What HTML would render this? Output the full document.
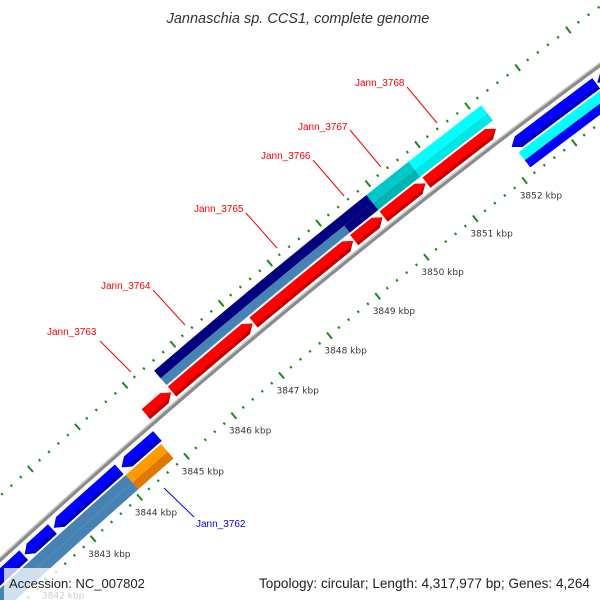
<!DOCTYPE html>
<html><head><meta charset="utf-8">
<style>
html,body{margin:0;padding:0;background:#fff;width:600px;height:600px;overflow:hidden;}
svg{display:block;font-family:"Liberation Sans",sans-serif;}
</style></head>
<body>
<svg id="map" width="600" height="600" viewBox="0 0 600 600" xmlns="http://www.w3.org/2000/svg">
<rect width="600" height="600" fill="#fff"/>
<g id="layer"></g>
<text x="298" y="23" text-anchor="middle" font-size="14.5" font-style="italic" fill="#333">Jannaschia sp. CCS1, complete genome</text>
<rect x="4" y="568" width="142" height="32" fill="rgba(255,255,255,0.75)"/>
<text x="9" y="588" font-size="13" fill="#222">Accession: NC_007802</text>
<text x="590" y="588" text-anchor="end" font-size="13.6" fill="#222">Topology: circular; Length: 4,317,977 bp; Genes: 4,264</text>
</svg>
<script>
// ---- data ----
const fwdStarts = [3844.95, 3845.50, 3847.20, 3849.27, 3849.87, 3850.74];
const fwdEnds   = [3845.48, 3847.18, 3849.25, 3849.85, 3850.72, 3852.14];
const revStarts = [3841.20, 3842.02, 3842.65, 3844.10, 3852.16, 3853.87];
const revEnds   = [3842.00, 3842.62, 3844.05, 3844.86, 3853.85, 3855.50];
const outerUpStarts = [3845.50, 3849.87, 3850.72];
const outerUpEnds   = [3849.87, 3850.72, 3852.18];
const outerUpColors = ["#000080", "#00c8c8", "#00ffff"];
const outerLoStarts = [3845.50, 3849.29, 3849.87, 3850.72];
const outerLoEnds   = [3849.29, 3849.87, 3850.72, 3852.18];
const outerLoColors = ["#4682b4", "#000080", "#00b4b4", "#00e6e6"];
const innerUpStarts = [3841.20, 3844.07, 3852.20];
const innerUpEnds   = [3844.07, 3844.82, 3855.50];
const innerUpColors = ["#4682b4", "#ff9900", "#00ffff"];
const innerLoStarts = [3841.20, 3844.07, 3852.20];
const innerLoEnds   = [3844.07, 3844.82, 3855.50];
const innerLoColors = ["#4682b4", "#e07800", "#0000ff"];
const tickMajors = [3840,3841,3842,3843,3844,3845,3846,3847,3848,3849,3850,3851,3852,3853,3854,3855,3856];
const tickLabels = ["3840 kbp","3841 kbp","3842 kbp","3843 kbp","3844 kbp","3845 kbp","3846 kbp","3847 kbp","3848 kbp","3849 kbp","3850 kbp","3851 kbp","3852 kbp","","","",""];

// ---- axis functions ----
const CX = 4924, CY = 5918;
function ang(k){ return (-129.95 + (k - 3847) * 0.494) * Math.PI / 180; }
function pt(k, r){ const a = ang(k); return [CX + r*Math.cos(a), CY + r*Math.sin(a)]; }
const NS = "http://www.w3.org/2000/svg";
const layer = document.getElementById('layer');
function fmt(p){ return p[0].toFixed(2)+","+p[1].toFixed(2); }
function arcPts(k1,k2,r){ const out=[]; const n=Math.max(2,Math.ceil(Math.abs(k2-k1)*4)); for(let i=0;i<=n;i++){ out.push(pt(k1+(k2-k1)*i/n,r)); } return out; }
function poly(points, fill){
  const p = document.createElementNS(NS,'polygon');
  p.setAttribute('points', points.map(fmt).join(' '));
  p.setAttribute('fill', fill);
  layer.appendChild(p);
  return p;
}
function band(k1,k2,r1,r2,fill){
  const pts = arcPts(k1,k2,r2).concat(arcPts(k2,k1,r1));
  return poly(pts, fill);
}
const H = 0.14;
function fwdArrow(s,e,r1,r2,fill,shade){
  const rm=(r1+r2)/2;
  const pts = arcPts(s,e-H,r2).concat([pt(e,rm)]).concat(arcPts(e-H,s,r1));
  const el = poly(pts, fill);
  const sh = poly(arcPts(s,e-H,r1+3.5).concat([pt(e-0.02,rm-0.5)]).concat(arcPts(e-H,s,r1)), shade);
  return [el, sh];
}
function revArrow(s,e,r1,r2,fill,shade){
  const rm=(r1+r2)/2;
  const pts = [pt(s,rm)].concat(arcPts(s+H,e,r2)).concat(arcPts(e,s+H,r1));
  const el = poly(pts, fill);
  const sh = poly([pt(s+0.02,rm-0.5)].concat(arcPts(s+H,e,r1+3.5)).concat(arcPts(e,s+H,r1)), shade);
  return [el, sh];
}

// backbone
const bb = band(3839.5,3857,7275,7279,"#8a8a8a");


const bbl = band(3839.5,3857,7278,7279.5,"#c8c8c8");



// forward genes
for(let i=0;i<fwdStarts.length;i++){
  const [el,sh] = fwdArrow(fwdStarts[i],fwdEnds[i],7282,7295,"#ff0000","#c80000");
  
  
  
  
}
// reverse genes
for(let i=0;i<revStarts.length;i++){
  const [el,sh] = revArrow(revStarts[i],revEnds[i],7258,7271,"#0000ff","#0000b4");
  
  
  
  
}
// feature rings
for(let i=0;i<outerLoStarts.length;i++){
  const el = band(outerLoStarts[i],outerLoEnds[i],7297,7306,outerLoColors[i]);
  
  
}
for(let i=0;i<outerUpStarts.length;i++){
  const el = band(outerUpStarts[i],outerUpEnds[i],7306,7316,outerUpColors[i]);
  
  
}
for(let i=0;i<innerUpStarts.length;i++){
  const el = band(innerUpStarts[i],innerUpEnds[i],7246,7256,innerUpColors[i]);
  
  
}
for(let i=0;i<innerLoStarts.length;i++){
  const el = band(innerLoStarts[i],innerLoEnds[i],7237,7246,innerLoColors[i]);
  
  
}

// ticks
function tickLine(k,r1,r2,w){
  const a=pt(k,r1), b=pt(k,r2);
  const l=document.createElementNS(NS,'line');
  l.setAttribute('x1',a[0]); l.setAttribute('y1',a[1]);
  l.setAttribute('x2',b[0]); l.setAttribute('y2',b[1]);
  l.setAttribute('stroke','#1a8a1a'); l.setAttribute('stroke-width',w);
  layer.appendChild(l);
  return l;
}
for(let i=0;i<tickMajors.length;i++){
  const k=tickMajors[i];
  const t1=tickLine(k,7226,7234,2);
  
  
  const t2=tickLine(k,7320,7328,2);
  
  
  for(let j=1;j<5;j++){
    const m1=tickLine(k+j*0.2,7229,7231.5,2);
    
    
    const m2=tickLine(k+j*0.2,7323,7325.5,2);
    
    
  }
  if(tickLabels[i]){
    const p=pt(k,7230);
    const tx=document.createElementNS(NS,'text');
    tx.setAttribute('x',(p[0]-5).toFixed(1));
    tx.setAttribute('y',(p[1]+18).toFixed(1));
    tx.setAttribute('font-size','9');
    tx.setAttribute('font-family','"DejaVu Sans", sans-serif');
    tx.setAttribute('fill','#333');
    tx.textContent=tickLabels[i];
    
    
    layer.appendChild(tx);
  }
}

// gene labels (annotation placement)
const labelNames = ["Jann_3763","Jann_3764","Jann_3765","Jann_3766","Jann_3767","Jann_3768","Jann_3762"];
const labelColors = ["#f00","#f00","#f00","#f00","#f00","#f00","#00f"];
const labelXY = [[47,335],[101,289],[194,212],[261,159],[298,130],[355,86],[196,527]];
const lineXY = [[100,341,131,372],[153,290,185,325],[246,213,277,248],[313,160,344,196],[350,130,381,167],[407,87,437,123],[164,488,194,517]];
for(let i=0;i<labelNames.length;i++){
  const l=document.createElementNS(NS,'line');
  l.setAttribute('x1',lineXY[i][0]); l.setAttribute('y1',lineXY[i][1]);
  l.setAttribute('x2',lineXY[i][2]); l.setAttribute('y2',lineXY[i][3]);
  l.setAttribute('stroke',labelColors[i]); l.setAttribute('stroke-width','1');
  
  
  layer.appendChild(l);
  const t=document.createElementNS(NS,'text');
  t.setAttribute('x',labelXY[i][0]); t.setAttribute('y',labelXY[i][1]);
  t.setAttribute('font-size','10'); t.setAttribute('fill',labelColors[i]);
  t.textContent=labelNames[i];
  
  
  layer.appendChild(t);
}
</script>
</body></html>
